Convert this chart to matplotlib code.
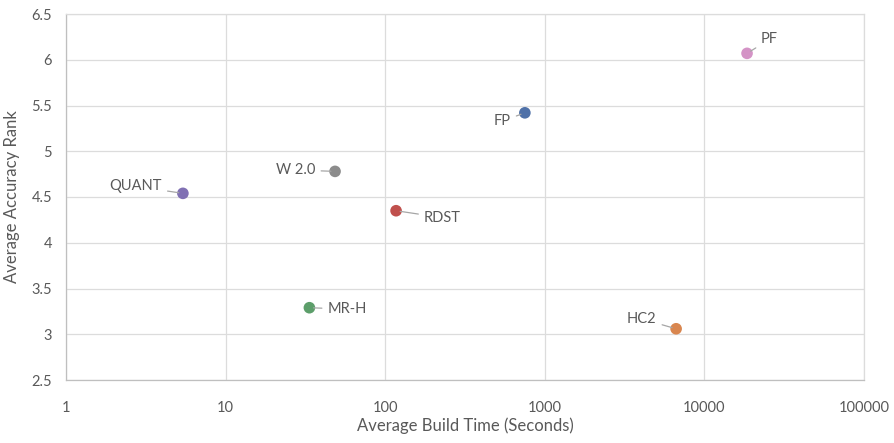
import matplotlib
matplotlib.use("Agg")
import matplotlib.pyplot as plt
from matplotlib.ticker import FixedLocator, FixedFormatter, NullLocator

# Classifier build time (seconds) vs average accuracy rank
names = ["QUANT", "W 2.0", "RDST", "MR-H", "FP", "PF", "HC2"]
build_time = [5.4, 48.5, 117, 33.5, 750, 18500, 6650]
acc_rank = [4.54, 4.78, 4.35, 3.29, 5.42, 6.07, 3.06]
colors = ["#8070b3", "#8c8c8c", "#c0504d", "#5c9e6a", "#4f71a8", "#d493c6", "#d9864f"]

x_ticks = [1, 10, 100, 1000, 10000, 100000]
x_tick_labels = ["1", "10", "100", "1000", "10000", "100000"]
y_ticks = [2.5, 3, 3.5, 4, 4.5, 5, 5.5, 6, 6.5]
y_tick_labels = ["2.5", "3", "3.5", "4", "4.5", "5", "5.5", "6", "6.5"]

# label offsets (points) and text alignment for each point
label_offsets = [(-15, 5), (-14, 1), (20, -5), (13, -1), (-10, -6), (10, 10), (-14, 7)]
label_align = ["right", "right", "left", "left", "right", "left", "right"]

plt.rcParams["font.family"] = ["Lato", "DejaVu Sans"]
text_color = "#595959"
grid_color = "#dcdcdc"

fig = plt.figure(figsize=(8.95, 4.43), dpi=100)
ax = fig.add_axes([66 / 895, 1 - 380 / 443, (864 - 66) / 895, (380 - 14) / 443])

ax.set_xscale("log")
ax.set_xlim(1, 100000)
ax.set_ylim(2.5, 6.5)

ax.xaxis.set_major_locator(FixedLocator(x_ticks))
ax.xaxis.set_major_formatter(FixedFormatter(x_tick_labels))
ax.xaxis.set_minor_locator(NullLocator())
ax.yaxis.set_major_locator(FixedLocator(y_ticks))
ax.yaxis.set_major_formatter(FixedFormatter(y_tick_labels))

ax.grid(True, color=grid_color, linewidth=0.9)
ax.set_axisbelow(True)
for s in ax.spines.values():
    s.set_color(grid_color)
    s.set_linewidth(0.9)
ax.spines["left"].set_color("#bfbfbf")
ax.spines["bottom"].set_color("#bfbfbf")

ax.tick_params(axis="both", length=0, labelsize=10.5, colors=text_color)
ax.tick_params(axis="x", pad=15)
ax.tick_params(axis="y", pad=10)

for n, x, y, c, off, ha in zip(names, build_time, acc_rank, colors, label_offsets, label_align):
    ax.scatter([x], [y], s=70, color=c, zorder=3, edgecolors="none")
    ax.annotate(n, xy=(x, y), xytext=off, textcoords="offset points",
                ha=ha, va="center", fontsize=10.5, color=text_color,
                arrowprops=dict(arrowstyle="-", color="#a6a6a6", lw=0.9,
                                shrinkA=2, shrinkB=3))

ax.set_xlabel("Average Build Time (Seconds)", fontsize=12, color=text_color, labelpad=2)
ax.set_ylabel("Average Accuracy Rank", fontsize=12, color=text_color, labelpad=8)

fig.savefig("out.png", dpi=100, facecolor="white")
